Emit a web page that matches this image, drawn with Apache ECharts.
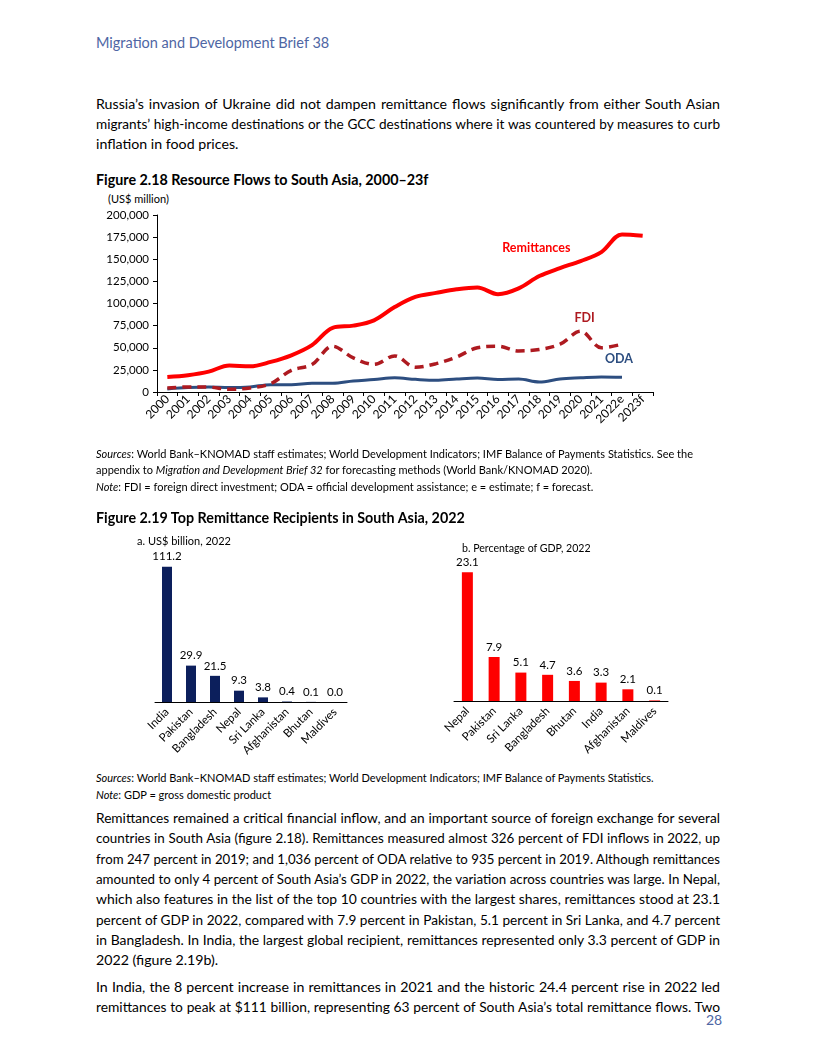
<!DOCTYPE html>
<html><head><meta charset="utf-8">
<script src="https://cdn.jsdelivr.net/npm/echarts@6/dist/echarts.min.js"></script>
<style>
html,body{margin:0;padding:0;background:#fff;}
body{width:816px;height:1056px;position:relative;overflow:hidden;font-family:Lato,'Open Sans',sans-serif;color:#000;}
.t{position:absolute;white-space:nowrap;line-height:20px;}
.j{text-align:justify;text-align-last:justify;}
.body{font-size:14.2px;left:96px;width:624px;}
.src{font-size:11px;left:96px;}
.ch{position:absolute;}
</style>
</head><body>
<div class="t" style="left:96px;top:33px;font-size:14.5px;color:#4e66a4;">Migration and Development Brief 38</div>

<div class="t body j fit" style="top:94px;">Russia’s invasion of Ukraine did not dampen remittance flows significantly from either South Asian</div>
<div class="t body j fit" style="top:114px;">migrants’ high-income destinations or the GCC destinations where it was countered by measures to curb</div>
<div class="t body" style="top:134px;">inflation in food prices.</div>

<div class="t" style="left:96px;top:170px;font-size:14.3px;font-weight:bold;">Figure 2.18 Resource Flows to South Asia, 2000–23f</div>
<div class="t" style="left:108px;top:189px;font-size:11px;">(US$ million)</div>

<div id="c1" class="ch" style="left:90px;top:205px;width:600px;height:240px;"></div>

<div class="t src j fit" style="top:444px;width:597px;"><i>Sources</i>: World Bank–KNOMAD staff estimates; World Development Indicators; IMF Balance of Payments Statistics. See the</div>
<div class="t src" style="top:460px;">appendix to <i>Migration and Development Brief 32</i> for forecasting methods (World Bank/KNOMAD 2020).</div>
<div class="t src" style="top:477px;"><i>Note</i>: FDI = foreign direct investment; ODA = official development assistance; e = estimate; f = forecast.</div>

<div class="t" style="left:96px;top:508px;font-size:14.3px;font-weight:bold;">Figure 2.19 Top Remittance Recipients in South Asia, 2022</div>

<div id="c2" class="ch" style="left:130px;top:540px;width:240px;height:220px;"></div>
<div id="c3" class="ch" style="left:440px;top:545px;width:250px;height:215px;"></div>
<div class="t" style="left:137px;top:531px;font-size:11px;">a. US$ billion, 2022</div>
<div class="t" style="left:462px;top:538px;font-size:10.6px;">b. Percentage of GDP, 2022</div>

<div class="t src" style="top:768px;"><i>Sources</i>: World Bank–KNOMAD staff estimates; World Development Indicators; IMF Balance of Payments Statistics.</div>
<div class="t src" style="top:785px;"><i>Note</i>: GDP = gross domestic product</div>

<div class="t body j fit" style="top:808px;">Remittances remained a critical financial inflow, and an important source of foreign exchange for several</div>
<div class="t body j fit" style="top:828.3px;">countries in South Asia (figure 2.18). Remittances measured almost 326 percent of FDI inflows in 2022, up</div>
<div class="t body j fit" style="top:848.6px;">from 247 percent in 2019; and 1,036 percent of ODA relative to 935 percent in 2019. Although remittances</div>
<div class="t body j fit" style="top:868.9px;">amounted to only 4 percent of South Asia’s GDP in 2022, the variation across countries was large. In Nepal,</div>
<div class="t body j fit" style="top:889.2px;">which also features in the list of the top 10 countries with the largest shares, remittances stood at 23.1</div>
<div class="t body j fit" style="top:909.5px;">percent of GDP in 2022, compared with 7.9 percent in Pakistan, 5.1 percent in Sri Lanka, and 4.7 percent</div>
<div class="t body j fit" style="top:929.8px;">in Bangladesh. In India, the largest global recipient, remittances represented only 3.3 percent of GDP in</div>
<div class="t body" style="top:950.1px;">2022 (figure 2.19b).</div>

<div class="t body j fit" style="top:977px;">In India, the 8 percent increase in remittances in 2021 and the historic 24.4 percent rise in 2022 led</div>
<div class="t body j fit" style="top:997.3px;">remittances to peak at $111 billion, representing 63 percent of South Asia’s total remittance flows. Two</div>

<div class="t" style="left:706px;top:1010px;font-size:14px;color:#4e66a4;">28</div>

<script>
// ---------- Data ----------
const years = ['2000','2001','2002','2003','2004','2005','2006','2007','2008','2009','2010','2011','2012','2013','2014','2015','2016','2017','2018','2019','2020','2021','2022e','2023f'];
const remittances = [17000,19000,23000,30000,29000,34000,41500,53000,72500,75000,81000,96000,107500,112000,116000,118000,110500,117000,131000,140000,148000,158000,178000,176600];
const fdi = [4500,5700,5500,3000,4500,9400,24500,31000,51700,38500,31300,40800,28000,32000,39600,50000,51700,46400,48000,54000,68700,50000,54000,null];
const oda = [3500,5000,5700,5000,5700,8300,8300,10000,10000,12500,14000,16000,14300,13200,14700,15800,14000,14700,11300,14700,16000,17000,16600,null];
const yTicks = [0,25000,50000,75000,100000,125000,150000,175000,200000];

const countriesA = ['India','Pakistan','Bangladesh','Nepal','Sri Lanka','Afghanistan','Bhutan','Maldives'];
const valuesA = [111.2,29.9,21.5,9.3,3.8,0.4,0.1,0.0];
const countriesB = ['Nepal','Pakistan','Sri Lanka','Bangladesh','Bhutan','India','Afghanistan','Maldives'];
const valuesB = [23.1,7.9,5.1,4.7,3.6,3.3,2.1,0.1];

const FONT = 'Lato';
const RED = '#fe0000', FDIC = '#ae1a20', ODAC = '#2d4e80', NAVY = '#0c1f5c';

// ---------- Chart 1 ----------
const c1 = echarts.init(document.getElementById('c1'), null, {renderer:'canvas'});
function lbl(text, color, coord, offset){
  return {symbol:'circle', symbolSize:0, silent:true,
    label:{show:true, position:'inside', formatter:text, color:color, fontWeight:'bold', fontSize:12.5, fontFamily:FONT, offset:offset||[0,0]},
    data:[{coord:coord}]};
}
c1.setOption({
  animation:false,
  grid:{left:67, top:10, width:496, height:177},
  xAxis:{type:'category', data:years, boundaryGap:true,
    axisLine:{lineStyle:{color:'#000', width:1}},
    axisTick:{show:true, length:4, lineStyle:{color:'#000'}},
    axisLabel:{interval:0, rotate:45, fontSize:12, color:'#000', fontFamily:FONT, margin:5}},
  yAxis:{type:'value', min:yTicks[0], max:yTicks[yTicks.length-1], interval:yTicks[1]-yTicks[0],
    axisLine:{show:true, lineStyle:{color:'#000', width:1}},
    axisTick:{show:true, length:4, lineStyle:{color:'#000'}},
    splitLine:{show:false},
    axisLabel:{fontSize:11.5, color:'#000', fontFamily:FONT, margin:8, formatter:v=>v.toLocaleString('en-US')}},
  series:[
    {name:'ODA', type:'line', data:oda, smooth:0.35, symbol:'none', lineStyle:{color:ODAC, width:3}, z:2,
      markPoint:lbl('ODA', ODAC, ['2022e', 37000], [-3,0])},
    {name:'FDI', type:'line', data:fdi, smooth:0.35, symbol:'none', lineStyle:{color:FDIC, width:3.5, type:[9,6]}, z:3,
      markPoint:lbl('FDI', FDIC, ['2020', 83400], [4,0])},
    {name:'Remittances', type:'line', data:remittances, smooth:0.35, symbol:'none', lineStyle:{color:RED, width:4}, z:4,
      markPoint:lbl('Remittances', RED, ['2018', 162600], [-3,0])}
  ]
});

// ---------- Bar charts ----------
function barOpt(cats, vals, color, grid, max, bw){
  return {
    animation:false,
    grid:grid,
    xAxis:{type:'category', data:cats,
      axisLine:{lineStyle:{color:'#000', width:1}}, axisTick:{show:false},
      axisLabel:{interval:0, rotate:45, fontSize:11.5, color:'#000', fontFamily:FONT, margin:8}},
    yAxis:{type:'value', min:0, max:max, show:false, splitLine:{show:false}},
    series:[{type:'bar', data:vals, barWidth:bw, itemStyle:{color:color},
      label:{show:true, position:'top', distance:4, fontSize:11.5, color:'#000', fontFamily:FONT, formatter:p=>p.value.toFixed(1)}}]
  };
}
const c2 = echarts.init(document.getElementById('c2'));
c2.setOption(barOpt(countriesA, valuesA, NAVY, {left:25, top:16, width:192, height:146}, 120, 10));
const c3 = echarts.init(document.getElementById('c3'));
c3.setOption(barOpt(countriesB, valuesB, RED, {left:14, top:16.7, width:214, height:139.3}, 25, 11));

// ---------- fit justified lines ----------
document.querySelectorAll('.fit').forEach(el=>{
  let fs = parseFloat(getComputedStyle(el).fontSize);
  let guard = 0;
  while(el.scrollWidth > el.clientWidth + 0.5 && guard < 80){ fs -= 0.1; el.style.fontSize = fs+'px'; guard++; }
});
</script>
</body></html>
